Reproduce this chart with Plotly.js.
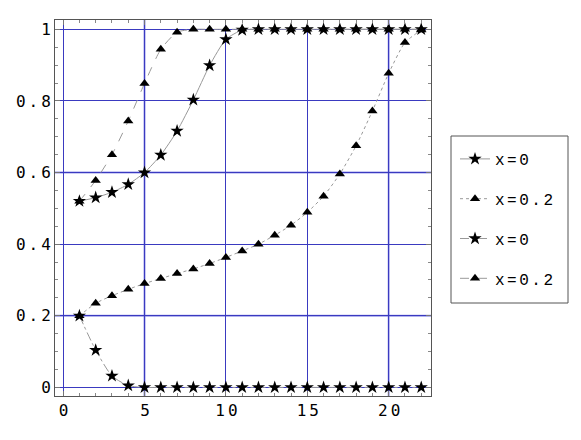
<!DOCTYPE html>
<html>
<head>
<meta charset="utf-8">
<script src="https://cdn.plot.ly/plotly-3.0.1.min.js"></script>
<style>
  body { margin: 0; background: #fff; }
  #plot { width: 581px; height: 440px; }
  .xtick text, .ytick text { letter-spacing: 3px; }
  .legendtext { letter-spacing: 2.5px; }
</style>
</head>
<body>
<div id="plot"></div>
<script>
// x positions shared by all four curves
var steps = [1, 2, 3, 4, 5, 6, 7, 8, 9, 10, 11, 12, 13, 14, 15, 16, 17, 18, 19, 20, 21, 22];

var solidStar = [0.52, 0.53, 0.545, 0.567, 0.6, 0.649, 0.716, 0.803, 0.899, 0.972, 0.998,
  1, 1, 1, 1, 1, 1, 1, 1, 1, 1, 1];
var dottedTri = [0.2, 0.235, 0.256, 0.274, 0.29, 0.304, 0.318, 0.331, 0.346, 0.363, 0.381,
  0.4, 0.425, 0.453, 0.489, 0.534, 0.596, 0.675, 0.772, 0.877, 0.963, 0.998];
var dashdotStar = [0.2, 0.104, 0.032, 0.005, 0, 0, 0, 0, 0, 0, 0,
  0, 0, 0, 0, 0, 0, 0, 0, 0, 0, 0];
var dashTri = [0.52, 0.578, 0.65, 0.744, 0.849, 0.944, 0.992, 1, 1, 1, 1,
  1, 1, 1, 1, 1, 1, 1, 1, 1, 1, 1];

var names = ['x=0', 'x=0.2', 'x=0', 'x=0.2'];

var lineGray = '#999';
var gridBlue = '#3a3ac0';
var softBlue = 'rgba(120,120,225,0.75)';

// plot area in pixels, used to turn pixel spots into paper fractions
var W = 581, H = 440, L = 55, R = 150, T = 20, B = 44;
function px(v){ return (v - L) / (W - L - R); }
function py(v){ return 1 - (v - T) / (H - T - B); }

function curve(y, name, dash, symbol, size, group){
  return {
    x: steps,
    y: y,
    name: name,
    legendgroup: group,
    mode: 'lines+markers',
    line: {color: lineGray, width: 1, dash: dash, shape: 'spline', smoothing: 0.6},
    marker: {symbol: symbol, size: size, color: '#000'},
    type: 'scatter'
  };
}

var data = [
  curve(solidStar, names[0], 'solid', 'star', 10, 'a'),
  curve(dottedTri, names[1], 'dot', 'triangle-up', 9, 'b'),
  curve(dashdotStar, names[2], 'dashdot', 'star', 10, 'c'),
  curve(dashTri, names[3], 'dash', 'triangle-up', 9, 'd')
];

// wider, paler grid lines (anti-aliased look in the original)
var softX = [5, 20];
var softY = [0.2, 0.6];
var shapes = [];
softX.forEach(function(v){
  shapes.push({type: 'line', xref: 'x', yref: 'paper', x0: v, x1: v, y0: 0, y1: 1,
    line: {color: softBlue, width: 2}, layer: 'below'});
});
softY.forEach(function(v){
  shapes.push({type: 'line', xref: 'paper', yref: 'y', x0: 0, x1: 1, y0: v, y1: v,
    line: {color: softBlue, width: 2}, layer: 'below'});
});
// legend frame
shapes.push({type: 'rect', xref: 'paper', yref: 'paper',
  x0: px(451), x1: px(568), y0: py(303), y1: py(136),
  line: {color: '#555', width: 1}});

var axisCommon = {
  showline: true,
  linecolor: '#555',
  linewidth: 1,
  mirror: 'allticks',
  ticks: 'inside',
  ticklen: 5,
  tickcolor: '#777',
  showgrid: true,
  gridcolor: gridBlue,
  gridwidth: 1,
  zeroline: false,
  tickfont: {family: 'DejaVu Sans Mono', size: 16, color: '#000'}
};

var layout = {
  width: W,
  height: H,
  margin: {l: L, r: R, t: T, b: B},
  paper_bgcolor: '#fff',
  plot_bgcolor: '#fff',
  shapes: shapes,
  xaxis: Object.assign({}, axisCommon, {
    range: [-0.5, 22.6],
    tickvals: [0, 5, 10, 15, 20],
    ticklabelshift: 2,
    minor: {dtick: 1, tick0: 0, ticks: 'inside', ticklen: 3, tickcolor: '#888', showgrid: false}
  }),
  yaxis: Object.assign({}, axisCommon, {
    range: [-0.024, 1.026],
    tickvals: [0, 0.2, 0.4, 0.6, 0.8, 1],
    ticktext: ['0', '0.2', '0.4', '0.6', '0.8', '1'],
    ticklabelstandoff: -3,
    minor: {dtick: 0.05, tick0: 0, ticks: 'inside', ticklen: 3, tickcolor: '#888', showgrid: false}
  }),
  showlegend: true,
  legend: {
    borderwidth: 0,
    bgcolor: 'rgba(0,0,0,0)',
    traceorder: 'grouped',
    tracegroupgap: 16,
    font: {family: 'Liberation Mono', size: 16, color: '#000'},
    itemwidth: 30,
    xanchor: 'left',
    yanchor: 'top',
    x: px(455),
    y: py(142)
  }
};

Plotly.newPlot('plot', data, layout, {displayModeBar: false, staticPlot: true});
</script>
</body>
</html>
